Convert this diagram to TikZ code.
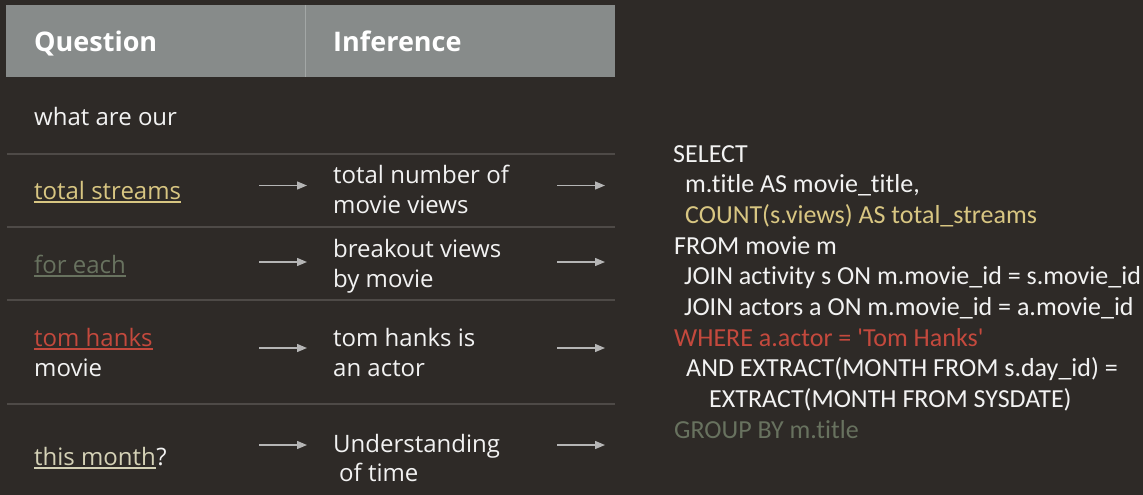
\documentclass[tikz,border=0pt]{standalone}
\usepackage{fontspec}
\setmainfont{Open Sans}
\newfontfamily\sqlfont[Ligatures=NoCommon]{Carlito}
\usetikzlibrary{arrows.meta}
\definecolor{bg}{HTML}{2E2A27}
\definecolor{hdr}{HTML}{878B8A}
\definecolor{hdrdiv}{HTML}{A3A7A6}
\definecolor{sep}{HTML}{4E4A47}
\definecolor{txtc}{HTML}{F2F2F2}
\definecolor{gold}{HTML}{D8C682}
\definecolor{redc}{HTML}{C4493D}
\definecolor{greyg}{HTML}{68725F}
\definecolor{pale}{HTML}{D4D1B6}
\definecolor{arrowc}{HTML}{B5B5B5}
\tikzset{
  txt/.style={text=txtc, font=\fontsize{24}{30}\selectfont, anchor=base west, inner sep=0pt},
  hdrtxt/.style={text=white, font=\fontsize{27}{32}\selectfont\bfseries, anchor=base west, inner sep=0pt},
  sql/.style={text=txtc, font=\sqlfont\fontsize{26}{31}\selectfont, anchor=base west, inner sep=0pt},
  sepline/.style={draw=sep, line width=1.5pt},
  flow/.style={draw=arrowc, line width=1.3pt, -{Triangle[length=10pt,width=8pt]}},
  uline/.style={line width=1.4pt}
}
\begin{document}
\begin{tikzpicture}[x=1pt,y=-1pt]
\fill[bg] (0,0) rectangle (1143,495);
\useasboundingbox (0,0) rectangle (1143,495);
% header
\fill[hdr] (6,5) rectangle (615,77);
\draw[hdrdiv, line width=0.8pt] (305,5) -- (305,77);
\node[hdrtxt] (hq) at (34,52) {Question};
\node[hdrtxt] (hi) at (333,52) {Inference};
% row separators
\draw[sepline] (7,154) -- (615,154);
\draw[sepline] (7,227) -- (615,227);
\draw[sepline] (7,300) -- (615,300);
\draw[sepline] (7,404) -- (615,404);
% question column
\node[txt] (q0) at (34,125) {what are our};
\node[txt, text=gold] (q1) at (34,199) {total streams};
\draw[gold, uline] ([yshift=-3pt]q1.base west) -- ([yshift=-3pt]q1.base east);
\node[txt, text=greyg] (q2) at (34,273) {for each};
\draw[greyg, uline] ([yshift=-3pt]q2.base west) -- ([yshift=-3pt]q2.base east);
\node[txt, text=redc] (q3a) at (34,346) {tom hanks};
\draw[redc, uline] ([yshift=-3pt]q3a.base west) -- ([yshift=-3pt]q3a.base east);
\node[txt] (q3b) at (34,376) {movie};
\node[txt, text=pale] (q4) at (34,465) {this month};
\draw[pale, uline] ([yshift=-3pt]q4.base west) -- ([yshift=-3pt]q4.base east);
\node[txt] (q4m) at (q4.base east) {?};
% inference column
\node[txt] (i1a) at (333,183) {total number of};
\node[txt] (i1b) at (333,213) {movie views};
\node[txt] (i2a) at (333,257) {breakout views};
\node[txt] (i2b) at (333,287) {by movie};
\node[txt] (i3a) at (333,346) {tom hanks is};
\node[txt] (i3b) at (333,376) {an actor};
\node[txt] (i4a) at (333,452) {Understanding};
\node[txt] (i4b) at (339,481) {of time};
% arrow endpoints
\coordinate (a1s) at (259,185.5); \coordinate (a1e) at (307,185.5);
\coordinate (b1s) at (557,185.5); \coordinate (b1e) at (605,185.5);
\coordinate (a2s) at (259,262); \coordinate (a2e) at (307,262);
\coordinate (b2s) at (557,262); \coordinate (b2e) at (605,262);
\coordinate (a3s) at (259,348); \coordinate (a3e) at (307,348);
\coordinate (b3s) at (557,348); \coordinate (b3e) at (605,348);
\coordinate (a4s) at (259,445); \coordinate (a4e) at (307,445);
\coordinate (b4s) at (557,445); \coordinate (b4e) at (605,445);
\foreach \r in {1,2,3,4} {
  \draw[flow] (a\r s) -- (a\r e);
  \draw[flow] (b\r s) -- (b\r e);
}
% SQL
\node[sql] (s1) at (673,162) {SELECT};
\node[sql] (s2) at (685,192.5) {m.title AS movie\_title,};
\node[sql, text=gold] (s3) at (685,223) {COUNT(s.views) AS total\_streams};
\node[sql] (s4) at (674,254) {FROM movie m};
\node[sql] (s5) at (684,284.5) {JOIN activity s ON m.movie\_id = s.movie\_id};
\node[sql] (s6) at (684,315) {JOIN actors a ON m.movie\_id = a.movie\_id};
\node[sql, text=redc] (s7) at (674,346) {WHERE a.actor = 'Tom Hanks'};
\node[sql] (s8) at (686,376.5) {AND EXTRACT(MONTH FROM s.day\_id) =};
\node[sql] (s9) at (709,407) {EXTRACT(MONTH FROM SYSDATE)};
\node[sql, text=greyg] (s10) at (674,438) {GROUP BY m.title};
\end{tikzpicture}
\end{document}
